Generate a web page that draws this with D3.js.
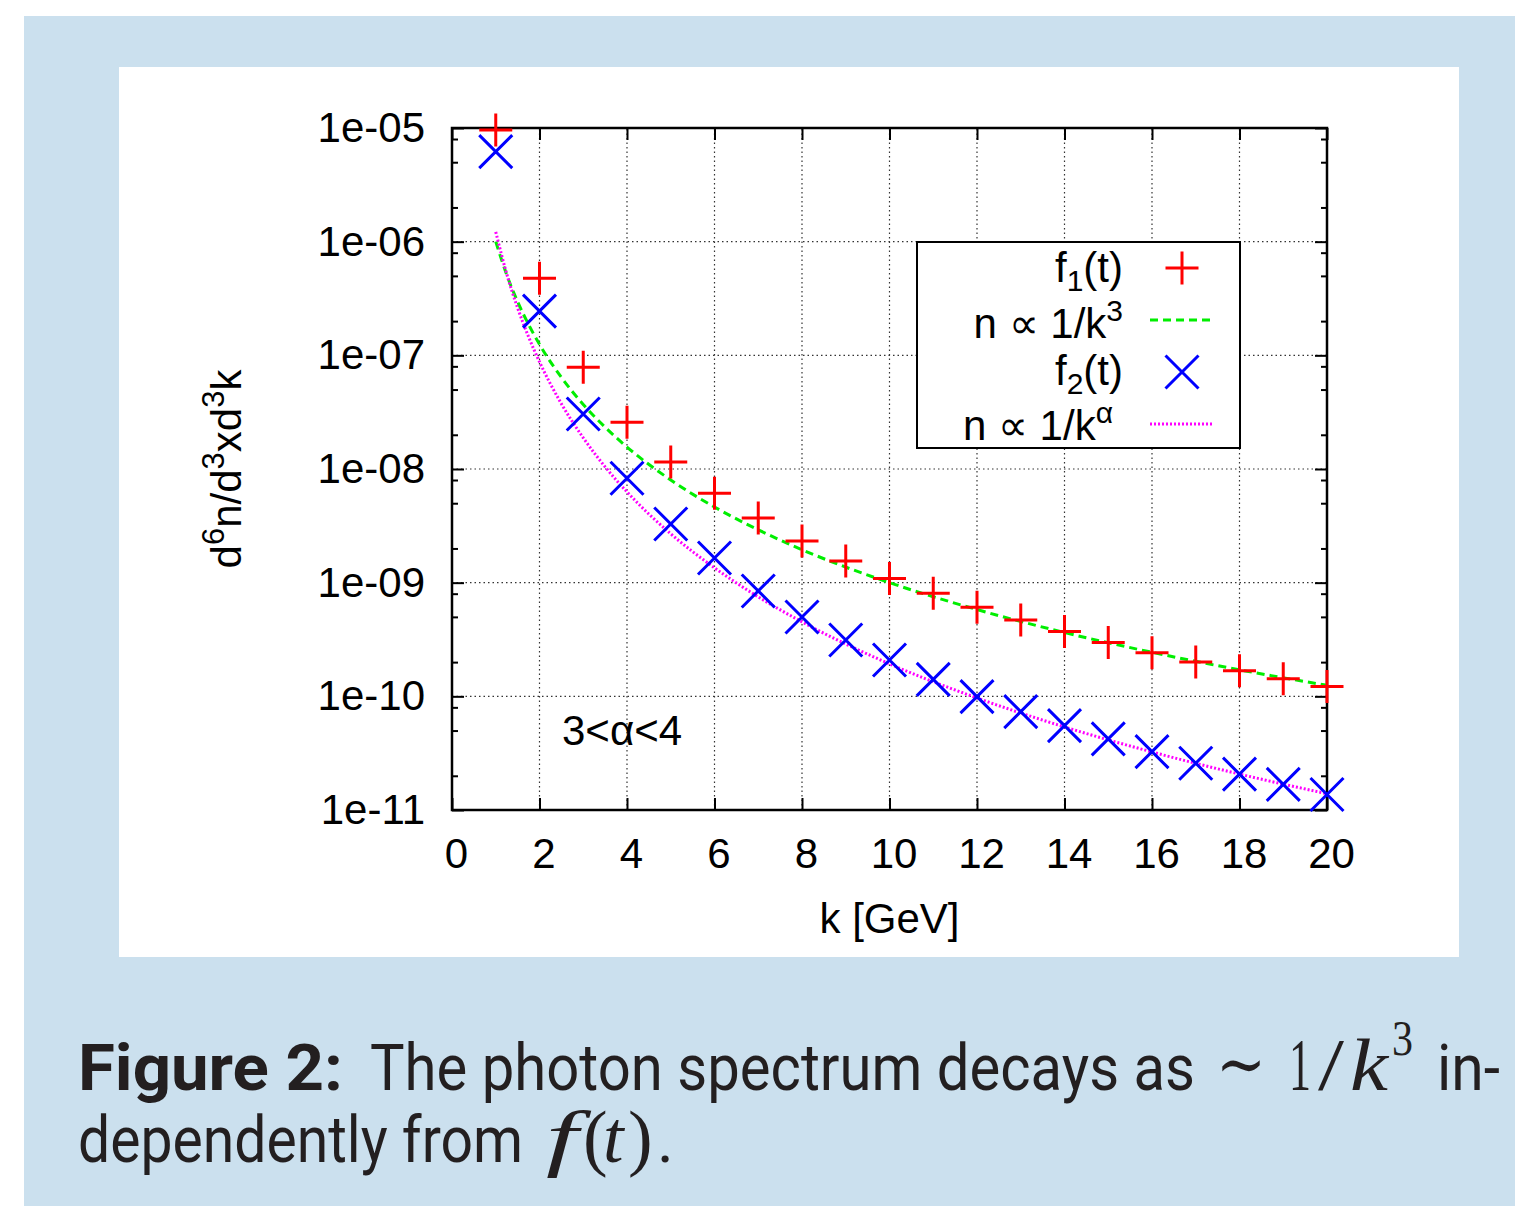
<!DOCTYPE html>
<html>
<head>
<meta charset="utf-8">
<script src="https://cdn.jsdelivr.net/npm/d3@7"></script>
<style>
  html, body { margin: 0; padding: 0; background: #fff; }
</style>
</head>
<body>
<div id="chart"></div>
<script>
// k values of the two point series
const kValues = [1, 2, 3, 4, 5, 6, 7, 8, 9, 10, 11, 12, 13, 14, 15, 16, 17, 18, 19, 20];
// f1(t), red +
const f1Values = [9.6e-6, 4.76e-7, 7.85e-8, 2.58e-8, 1.15e-8, 6.11e-9, 3.71e-9, 2.33e-9, 1.55e-9, 1.09e-9,
                  8.05e-10, 6.07e-10, 4.70e-10, 3.71e-10, 2.97e-10, 2.42e-10, 2.00e-10, 1.68e-10, 1.43e-10, 1.22e-10];
// f2(t), blue x
const f2Values = [6.2e-6, 2.45e-7, 3.05e-8, 8.3e-9, 3.28e-9, 1.65e-9, 8.45e-10, 4.99e-10, 3.13e-10, 2.09e-10,
                  1.41e-10, 9.93e-11, 7.33e-11, 5.52e-11, 4.22e-11, 3.26e-11, 2.58e-11, 2.07e-11, 1.68e-11, 1.37e-11];
// fitted curves
const fitK = [1, 1.25, 1.5, 1.75, 2, 2.5, 3, 3.5, 4, 5, 6, 7, 8, 10, 12, 14, 16, 18, 20];
const cubicFit = [1.0e-6, 5.12e-7, 2.96e-7, 1.87e-7, 1.25e-7, 6.4e-8, 3.7e-8, 2.33e-8, 1.56e-8, 8.0e-9,
                  4.63e-9, 2.92e-9, 1.95e-9, 1.0e-9, 5.8e-10, 3.64e-10, 2.44e-10, 1.71e-10, 1.25e-10];
const alphaFit = [1.22e-6, 5.22e-7, 2.61e-7, 1.455e-7, 8.76e-8, 3.75e-8, 1.88e-8, 1.045e-8, 6.29e-9, 2.69e-9,
                  1.35e-9, 7.5e-10, 4.52e-10, 1.93e-10, 9.67e-11, 5.38e-11, 3.24e-11, 2.07e-11, 1.39e-11];
// ticks
const xTicks = [0, 2, 4, 6, 8, 10, 12, 14, 16, 18, 20];
const yTicks = [1e-5, 1e-6, 1e-7, 1e-8, 1e-9, 1e-10, 1e-11];
const yMinorMult = [2, 5, 8];

const W = 1515, H = 1206;
const plot = {left: 452, right: 1327, top: 128, bottom: 810};
const sans = "'Liberation Sans', Arial, sans-serif";
const serif = "'Liberation Serif', 'DejaVu Serif', serif";
const capFont = "Roboto, sans-serif";

const svg = d3.select("#chart").append("svg")
    .attr("width", W).attr("height", H)
    .attr("viewBox", [0, 0, W, H])
    .style("font-family", sans);

// page background + white chart panel
svg.append("rect").attr("x", 24).attr("y", 16).attr("width", W - 24).attr("height", H - 16).attr("fill", "#cbe0ee");
svg.append("rect").attr("x", 119).attr("y", 67).attr("width", 1340).attr("height", 890).attr("fill", "#fff");

const x = d3.scaleLinear().domain([0, 20]).range([plot.left, plot.right]);
const y = d3.scaleLog().domain([1e-11, 1e-5]).range([plot.bottom, plot.top]);

// grid
const grid = svg.append("g")
    .attr("stroke", "#333").attr("stroke-width", 1.2).attr("stroke-dasharray", "1.5,3");
grid.selectAll(".gx").data(xTicks.slice(1, -1)).join("line")
    .attr("x1", d => x(d)).attr("x2", d => x(d))
    .attr("y1", plot.bottom).attr("y2", plot.top);
grid.selectAll(".gy").data(yTicks.slice(1, -1)).join("line")
    .attr("y1", d => y(d)).attr("y2", d => y(d))
    .attr("x1", plot.left).attr("x2", plot.right);

const yMinor = [];
yTicks.slice(1).forEach(t => yMinorMult.forEach(m => yMinor.push(t * m)));

const fmt = v => "1e-" + String(-Math.round(Math.log10(v))).padStart(2, "0");

function styleAxis(g) {
    g.select(".domain").remove();
    g.selectAll("line").attr("stroke", "#000").attr("stroke-width", 2);
    g.attr("font-family", null).attr("font-size", null);
    g.selectAll("text").attr("fill", "#000").style("font-size", "42px").style("font-family", sans);
}

svg.append("g").attr("transform", `translate(0,${plot.bottom})`)
    .call(d3.axisBottom(x).tickValues(xTicks).tickSizeInner(-12).tickSizeOuter(0).tickPadding(28))
    .call(styleAxis)
    .call(g => g.selectAll("text").attr("dx", 4));
svg.append("g").attr("transform", `translate(0,${plot.top})`)
    .call(d3.axisTop(x).tickValues(xTicks).tickSizeInner(-12).tickSizeOuter(0).tickFormat(""))
    .call(styleAxis);
svg.append("g").attr("transform", `translate(${plot.left},0)`)
    .call(d3.axisLeft(y).tickValues(yTicks).tickFormat(fmt).tickSizeInner(-12).tickSizeOuter(0).tickPadding(27))
    .call(styleAxis);
svg.append("g").attr("transform", `translate(${plot.left},0)`)
    .call(d3.axisLeft(y).tickValues(yMinor).tickFormat("").tickSizeInner(-6).tickSizeOuter(0))
    .call(styleAxis);
svg.append("g").attr("transform", `translate(${plot.right},0)`)
    .call(d3.axisRight(y).tickValues(yTicks).tickFormat("").tickSizeInner(-12).tickSizeOuter(0))
    .call(styleAxis);
svg.append("g").attr("transform", `translate(${plot.right},0)`)
    .call(d3.axisRight(y).tickValues(yMinor).tickFormat("").tickSizeInner(-6).tickSizeOuter(0))
    .call(styleAxis);

// border
svg.append("rect")
    .attr("x", plot.left).attr("y", plot.top)
    .attr("width", plot.right - plot.left).attr("height", plot.bottom - plot.top)
    .attr("fill", "none").attr("stroke", "#000").attr("stroke-width", 2.5);

// axis titles
svg.append("text").attr("x", (plot.left + plot.right) / 2).attr("y", 933)
    .attr("text-anchor", "middle").attr("font-size", 42).text("k [GeV]");

const yl = svg.append("text").attr("transform", "translate(241,469) rotate(-90)")
    .attr("text-anchor", "middle").attr("font-size", 42);
yl.append("tspan").text("d");
yl.append("tspan").attr("font-size", 31).attr("dy", -17).text("6");
yl.append("tspan").attr("dy", 17).text("n/d");
yl.append("tspan").attr("font-size", 31).attr("dy", -17).text("3");
yl.append("tspan").attr("dy", 17).text("xd");
yl.append("tspan").attr("font-size", 31).attr("dy", -17).text("3");
yl.append("tspan").attr("dy", 17).text("k");

// fitted curves
const line = d3.line().x(d => x(d[0])).y(d => y(d[1])).curve(d3.curveMonotoneX);
svg.append("path").datum(d3.zip(fitK, cubicFit))
    .attr("fill", "none").attr("stroke", "#00ee00").attr("stroke-width", 3)
    .attr("stroke-dasharray", "8,5").attr("d", line);
svg.append("path").datum(d3.zip(fitK, alphaFit))
    .attr("fill", "none").attr("stroke", "#ff00ff").attr("stroke-width", 3)
    .attr("stroke-dasharray", "2,2").attr("d", line);

// point markers
const plusPath = "M-16.5,0H16.5M0,-16.5V16.5";
const timesPath = "M-16.5,-16.5L16.5,16.5M-16.5,16.5L16.5,-16.5";

svg.append("g").selectAll("path").data(d3.zip(kValues, f1Values)).join("path")
    .attr("transform", d => `translate(${x(d[0])},${y(d[1])})`)
    .attr("d", plusPath).attr("stroke", "#ff0000").attr("stroke-width", 3).attr("fill", "none");
svg.append("g").selectAll("path").data(d3.zip(kValues, f2Values)).join("path")
    .attr("transform", d => `translate(${x(d[0])},${y(d[1])})`)
    .attr("d", timesPath).attr("stroke", "#0000ff").attr("stroke-width", 3).attr("fill", "none");

// annotation
svg.append("text").attr("x", 562).attr("y", 745).attr("font-size", 42).text("3<α<4");

// legend
const lg = svg.append("g");
lg.append("rect").attr("x", 917).attr("y", 242).attr("width", 323).attr("height", 206)
    .attr("fill", "#fff").attr("stroke", "#000").attr("stroke-width", 2);

function legendText(xr, yb, parts) {
    const t = lg.append("text").attr("x", xr).attr("y", yb).attr("text-anchor", "end").attr("font-size", 42);
    parts.forEach(p => {
        const s = t.append("tspan").text(p[0]);
        if (p[1]) s.attr("font-size", 30).attr("dy", p[1]);
        if (p[2]) s.attr("dy", p[2]);
    });
}
legendText(1123, 282, [["f"], ["1", 9], ["(t)", null, -9]]);
legendText(1123, 338, [["n ∝ 1/k"], ["3", -17]]);
legendText(1123, 385, [["f"], ["2", 9], ["(t)", null, -9]]);
legendText(1113, 440, [["n ∝ 1/k"], ["α", -17]]);

lg.append("path").attr("transform", "translate(1182,268)").attr("d", plusPath)
    .attr("stroke", "#ff0000").attr("stroke-width", 3);
lg.append("line").attr("x1", 1150).attr("x2", 1213).attr("y1", 320).attr("y2", 320)
    .attr("stroke", "#00ee00").attr("stroke-width", 3).attr("stroke-dasharray", "8,5");
lg.append("path").attr("transform", "translate(1182,372)").attr("d", timesPath)
    .attr("stroke", "#0000ff").attr("stroke-width", 3);
lg.append("line").attr("x1", 1150).attr("x2", 1213).attr("y1", 424).attr("y2", 424)
    .attr("stroke", "#ff00ff").attr("stroke-width", 3).attr("stroke-dasharray", "2,2");

// caption: one text element per line, pieces placed as tspans
const cap = svg.append("g").attr("fill", "#231f20");
function capLine(yb, pieces) {
    const t = cap.append("text").attr("y", yb)
        .style("font-family", capFont).style("font-size", "64px");
    pieces.forEach(p => {
        const s = t.append("tspan").attr("x", p.x).text(p.t);
        if (p.y) s.attr("y", p.y);
        else s.attr("y", yb);
        if (p.family) s.style("font-family", p.family);
        if (p.size) s.style("font-size", p.size + "px");
        if (p.weight) s.style("font-weight", p.weight);
        if (p.style) s.style("font-style", p.style);
        if (p.len) s.attr("textLength", p.len).attr("lengthAdjust", "spacingAndGlyphs");
    });
}
capLine(1090, [
    {t: "Figure 2:", x: 78, weight: "bold", len: 265},
    {t: "The photon spectrum decays as", x: 370, len: 825},
    {t: "∼", x: 1216, y: 1088, family: serif, size: 70, len: 50},
    {t: "1", x: 1289, family: serif, size: 74, len: 22},
    {t: "/", x: 1318, family: serif, size: 74, len: 26},
    {t: "k", x: 1350, family: serif, size: 74, style: "italic", len: 38},
    {t: "3", x: 1392, y: 1055, family: serif, size: 50, len: 21},
    {t: "in-", x: 1437, len: 63}
]);
capLine(1162, [
    {t: "dependently from", x: 78, len: 445},
    {t: "f", x: 546, family: serif, size: 74, style: "italic", len: 32},
    {t: "(", x: 583, family: serif, size: 74},
    {t: "t", x: 603, family: serif, size: 74, style: "italic"},
    {t: ")", x: 628, family: serif, size: 74},
    {t: ".", x: 657}
]);
</script>
</body>
</html>
